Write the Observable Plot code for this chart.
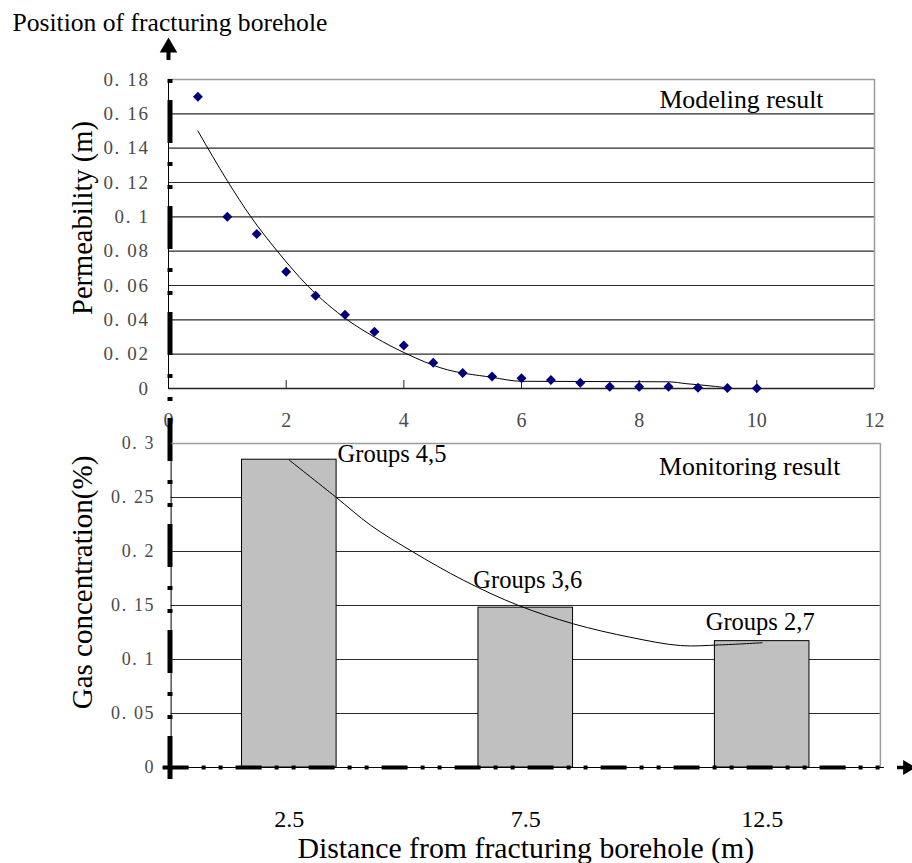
<!DOCTYPE html>
<html><head><meta charset="utf-8">
<script src="https://cdn.jsdelivr.net/npm/d3@7"></script>
<script src="https://cdn.jsdelivr.net/npm/@observablehq/plot@0.6"></script>
<style>
html,body{margin:0;padding:0;background:#fff;}
#wrap{position:relative;width:912px;height:863px;background:#fff;overflow:hidden;}
#wrap svg{position:absolute;left:0;top:0;}
#wrap g[aria-label="y-axis tick label"] text{letter-spacing:1.6px;}
</style></head><body><div id="wrap"></div>
<script>
// ---- data ----
const modelDistance = [0.5,1,1.5,2,2.5,3,3.5,4,4.5,5,5.5,6,6.5,7,7.5,8,8.5,9,9.5,10];
const modelPermeability = [0.170,0.100,0.090,0.068,0.054,0.043,0.033,0.025,0.015,0.009,0.007,0.006,0.005,0.0033,0.001,0.001,0.001,0.0005,0.0003,0.0002];
const modelTrendX = [0.5,1.0,1.4,1.85,2.36,3.04,3.5,4.06,4.63,5.5,6.0,8.5,8.8,9.3,9.5];
const modelTrendY = [0.150,0.121,0.100,0.080,0.060,0.040,0.030,0.020,0.012,0.0065,0.0042,0.0039,0.0028,0.0012,0.0003];
const monitorDistance = [2.5,7.5,12.5];
const monitorGas = [0.285,0.148,0.117];
const monitorLabels = ["Groups 4,5","Groups 3,6","Groups 2,7"];
const monitorTrendX = [2.5,3.48,4.22,5.10,6.19,7.35,8.51,9.71,10.77,11.6,12.5];
const monitorTrendY = [0.2846,0.2505,0.2243,0.200,0.1732,0.150,0.133,0.1206,0.1129,0.1135,0.1155];
const topXTicks = [0,2,4,6,8,10,12];
const topYTicks = [0,0.02,0.04,0.06,0.08,0.1,0.12,0.14,0.16,0.18];
const topYTickLabels = ["0","0. 02","0. 04","0. 06","0. 08","0. 1","0. 12","0. 14","0. 16","0. 18"];
const bottomYTicks = [0,0.05,0.1,0.15,0.2,0.25,0.3];
const bottomYTickLabels = ["0","0. 05","0. 1","0. 15","0. 2","0. 25","0. 3"];
const bottomXTickLabels = ["2.5","7.5","12.5"];

// ---- tables built from the arrays ----
const modelPts = modelDistance.map((d,i)=>({d, p: modelPermeability[i]}));
const modelTrend = modelTrendX.map((d,i)=>({d, p: modelTrendY[i]}));
const bars = monitorDistance.map((d,i)=>({d, g: monitorGas[i], label: monitorLabels[i]}));
const monitorTrend = monitorTrendX.map((d,i)=>({d, g: monitorTrendY[i]}));

const W = 912, H = 863;
const serif = "'Liberation Serif','Times New Roman',serif";
const barHalf = 1;
const grid = "#2a2a2a", frameGray = "#9c9c9c", tickGray = "#4a4a4a";

const topPlot = Plot.plot({
  width: W, height: H,
  marginLeft: 168, marginRight: 38, marginTop: 79, marginBottom: H - 388,
  x: {domain: [0, 12]},
  y: {domain: [0, 0.18]},
  style: {fontFamily: serif, background: "white", overflow: "visible"},
  marks: [
    Plot.gridY(topYTicks.slice(1, -1), {stroke: grid, strokeOpacity: 1, strokeWidth: 1.2}),
    Plot.ruleY([0.18], {stroke: frameGray, strokeWidth: 1.5}),
    Plot.ruleX([12], {stroke: frameGray, strokeWidth: 1.5}),
    Plot.ruleY([0], {stroke: "#222", strokeWidth: 1.3}),
    Plot.tickX(topXTicks.slice(1, -1), {insetTop: 301, stroke: "#222"}),
    Plot.axisX({ticks: topXTicks, tickSize: 0, tickPadding: 24, fontSize: 20, color: tickGray, label: null,
      tickFormat: d => String(d)}),
    Plot.axisY({ticks: topYTicks, tickSize: 0, tickPadding: 19, fontSize: 19, color: tickGray, label: null,
      tickFormat: d => topYTickLabels[topYTicks.indexOf(d)]}),
    // left axis: thin line + thick dash-dot line running down through both panels
    Plot.ruleX([0], {stroke: "black", strokeWidth: 1}),
    Plot.ruleX([0], {stroke: "black", strokeWidth: 5, strokeDasharray: "4 17 43 19 4 19", insetBottom: -(780 - 388), dx: 1.5}),
    // arrow on top of the left axis
    Plot.ruleX([0], {stroke: "black", strokeWidth: 4, insetTop: -27, insetBottom: 388 - 60}),
    Plot.dot([0], {frameAnchor: "top-left", symbol: "triangle", r: 6.5, fill: "black", stroke: "none", dy: -32}),
    // data
    Plot.line(modelTrend, {x: "d", y: "p", curve: "monotone-x", stroke: "black", strokeWidth: 1}),
    Plot.dot(modelPts, {x: "d", y: "p", symbol: "diamond2", r: 4.5, fill: "#00007a", stroke: "none"}),
    // text
    Plot.text(["Modeling result"], {frameAnchor: "top-right", dx: -51, dy: 20, textAnchor: "end", lineAnchor: "middle", fontSize: 25.8, fill: "black"}),
    Plot.text(["Position of fracturing borehole"], {frameAnchor: "top-left", dx: -156, dy: -57, textAnchor: "start", lineAnchor: "middle", fontSize: 25.6, fill: "black"}),
    Plot.text(["Permeability (m)"], {frameAnchor: "left", rotate: -90, dx: -86, dy: -16, textAnchor: "middle", lineAnchor: "middle", fontSize: 28.5, fill: "black"})
  ]
});

const bottomPlot = Plot.plot({
  width: W, height: H,
  marginLeft: 170.6, marginRight: 32.1, marginTop: 443, marginBottom: H - 767,
  x: {domain: [0, 15]},
  y: {domain: [0, 0.3]},
  style: {fontFamily: serif, background: "transparent", overflow: "visible"},
  marks: [
    Plot.gridY(bottomYTicks.slice(1, -1), {stroke: grid, strokeOpacity: 1, strokeWidth: 1.2}),
    Plot.ruleY([0.3], {stroke: frameGray, strokeWidth: 1.5}),
    Plot.ruleX([15], {stroke: frameGray, strokeWidth: 1.5}),
    Plot.ruleX([0], {stroke: "black", strokeWidth: 1}),
    Plot.rectY(bars, {x1: d => d.d - barHalf, x2: d => d.d + barHalf, y: "g", fill: "#c0c0c0", stroke: "black", strokeWidth: 1}),
    // bottom axis: thin line + thick dash-dot line + arrow
    Plot.ruleY([0], {stroke: "black", strokeWidth: 1, insetLeft: -8, insetRight: -4}),
    Plot.ruleY([0], {stroke: "black", strokeWidth: 4, strokeDasharray: "26 13 4 13 4 13", insetLeft: -8, insetRight: -4}),
    Plot.ruleY([0], {stroke: "black", strokeWidth: 3.5, insetLeft: 897 - 170.6, insetRight: -(905 - 879.9)}),
    Plot.dot([0], {frameAnchor: "bottom-right", symbol: "triangle", rotate: 90, r: 5.5, fill: "black", stroke: "none", dx: 27}),
    // trend
    Plot.line(monitorTrend, {x: "d", y: "g", curve: "catmull-rom", stroke: "black", strokeWidth: 1}),
    // labels
    Plot.text(bars.slice(0, 1), {x: d => d.d + barHalf, y: "g", text: "label", textAnchor: "start", dx: 1, dy: -6, fontSize: 24.5, fill: "black"}),
    Plot.text(bars.slice(1, 2), {x: "d", y: "g", text: "label", dy: -28, dx: 2, fontSize: 24.5, fill: "black"}),
    Plot.text(bars.slice(2, 3), {x: "d", y: "g", text: "label", dy: -19, dx: -2, fontSize: 24.5, fill: "black"}),
    Plot.text(["Monitoring result"], {frameAnchor: "top-right", dx: -40, dy: 23, textAnchor: "end", lineAnchor: "middle", fontSize: 25.8, fill: "black"}),
    // axes
    Plot.axisY({ticks: bottomYTicks, tickSize: 0, tickPadding: 16, fontSize: 18, color: tickGray, label: null,
      tickFormat: d => bottomYTickLabels[bottomYTicks.indexOf(d)]}),
    Plot.axisX({ticks: monitorDistance, tickSize: 0, tickPadding: 42, fontSize: 24, color: "black", label: null,
      tickFormat: d => bottomXTickLabels[monitorDistance.indexOf(d)]}),
    Plot.text(["Distance from fracturing borehole (m)"], {frameAnchor: "bottom", dy: 81, lineAnchor: "middle", fontSize: 29.8, fill: "black"}),
    Plot.text(["Gas concentration(%)"], {frameAnchor: "left", rotate: -90, dx: -88.6, dy: -23, textAnchor: "middle", lineAnchor: "middle", fontSize: 29, fill: "black"})
  ]
});

const wrap = document.getElementById("wrap");
wrap.appendChild(topPlot);
wrap.appendChild(bottomPlot);
</script></body></html>
